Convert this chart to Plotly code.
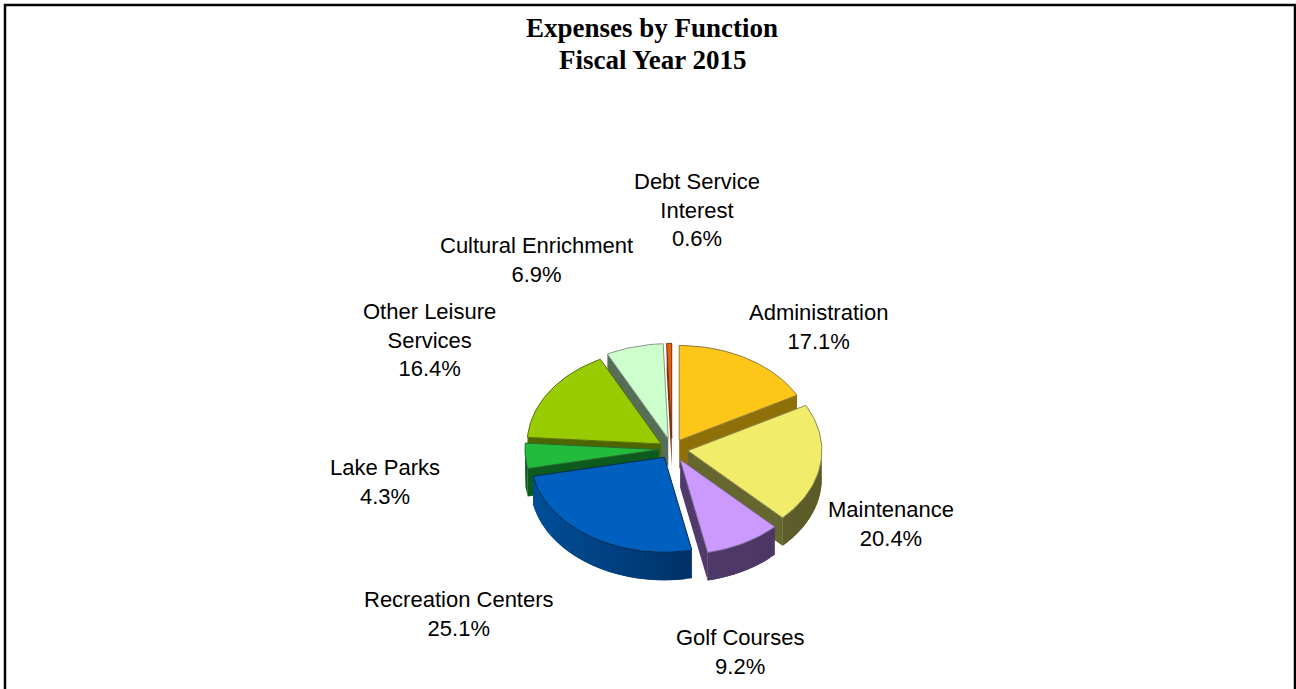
import math
import plotly.graph_objects as go

# Share of expenses by function, fiscal year 2015 (percent)
functions = ["Administration", "Maintenance", "Golf Courses", "Recreation Centers",
             "Lake Parks", "Other Leisure<br>Services", "Cultural Enrichment",
             "Debt Service<br>Interest"]
shares = [17.1, 20.4, 9.2, 25.1, 4.3, 16.4, 6.9, 0.6]
title_lines = ["Expenses by Function", "Fiscal Year 2015"]

top_colors = ["#FFC61A", "#F2EC6B", "#CC99FF", "#0060C0", "#22BB3C", "#99CC00", "#CCFFCC", "#E85F10"]
wall_colors = ["#8F7008", "#66662F", "#503A6B", "#002A5C", "#0C5A1C", "#4D6600", "#566E56", "#7A3008"]
rim_left = ["#8F7008", "#66662F", "#57406F", "#004F99", "#0C5A1C", "#4D6600", "#566E56", "#7A3008"]
rim_right = ["#8F7008", "#5C5C2A", "#4A3563", "#001E46", "#0C5A1C", "#4D6600", "#566E56", "#7A3008"]
top_edges = ["#8A7A40", "#8A8A50", "#7A6A90", "#0A2A50", "#2A6A30", "#5A7010", "#8A9A8A", "#7A3008"]

# Pie geometry on a pixel-sized plotting area
CX, CY = 672, 449
RX, RY = 134, 95
DEPTH = 28
explode = [14, 16, 17, 14, 13, 13, 15, 15]
paint_order = [7, 6, 5, 4, 0, 1, 2, 3]

# Label placement: centre x and y of the first text line
label_pos = [(818, 310), (891, 507), (740, 635), (459, 597),
             (385, 465), (429, 309), (536, 243), (697, 179)]
title_y = [28, 60]


def hex_rgb(h):
    return tuple(int(h[i:i + 2], 16) for i in (1, 3, 5))


def lerp_color(a, b, t):
    ca, cb = hex_rgb(a), hex_rgb(b)
    return "rgb(%d,%d,%d)" % tuple(round(x + (y - x) * t) for x, y in zip(ca, cb))


def polygon(xs, ys, fill, line=None, width=0.0):
    return go.Scatter(x=xs + xs[:1], y=ys + ys[:1], mode="lines", fill="toself",
                      fillcolor=fill, line=dict(color=line or fill, width=width),
                      hoverinfo="skip", showlegend=False)


def rim_point(ax, ay, deg):
    r = math.radians(deg)
    return ax + RX * math.sin(r), ay - RY * math.cos(r)


fig = go.Figure()

# Cumulative angles, clockwise from twelve o'clock
starts, ends, acc = [], [], 0.0
for s in shares:
    starts.append(acc * 3.6)
    acc += s
    ends.append(acc * 3.6)

for i in paint_order:
    a0, a1 = starts[i], ends[i]
    mid = math.radians((a0 + a1) / 2)
    ax = CX + explode[i] * math.sin(mid)
    ay = CY - explode[i] * math.cos(mid) * RY / RX

    # Radial walls facing the viewer
    for deg, visible in ((a0, math.sin(math.radians(a0)) < 0), (a1, math.sin(math.radians(a1)) > 0)):
        if visible:
            ex, ey = rim_point(ax, ay, deg)
            fig.add_trace(polygon([ax, ex, ex, ax], [ay, ey, ey + DEPTH, ay + DEPTH], wall_colors[i]))

    # Curved outer wall, only where it faces forward; bands overlap so no seams show
    lo, hi = max(a0, 90.0), min(a1, 270.0)
    if hi > lo:
        n = max(2, int((hi - lo) / 3))
        for k in range(n):
            d0 = lo + (hi - lo) * k / n
            d1 = hi if k == n - 1 else lo + (hi - lo) * (k + 2) / n
            arc = [rim_point(ax, ay, d0 + (d1 - d0) * j / 4) for j in range(5)]
            t = (math.sin(math.radians(d0 + (hi - lo) / (2 * n))) + 1) / 2
            xs = [p[0] for p in arc]
            ys = [p[1] for p in arc]
            fig.add_trace(polygon(xs + xs[::-1], ys + [y + DEPTH for y in ys[::-1]],
                                  lerp_color(rim_left[i], rim_right[i], t)))

    # Top face
    n = max(3, int((a1 - a0) / 2))
    arc = [rim_point(ax, ay, a0 + (a1 - a0) * k / n) for k in range(n + 1)]
    fig.add_trace(polygon([ax] + [p[0] for p in arc], [ay] + [p[1] for p in arc],
                          top_colors[i], line=top_edges[i], width=1))

# Slice labels with their percentages
for name, share, (lx, ly) in zip(functions, shares, label_pos):
    fig.add_annotation(x=lx, y=ly - 12, yanchor="top", xanchor="center", showarrow=False,
                       text=f"{name}<br>{share:.1f}%", align="center",
                       font=dict(family="Liberation Sans", size=22, color="#000000"))

# Two-line heading, placed line by line for tighter leading
for line, y in zip(title_lines, title_y):
    fig.add_annotation(x=652, y=y, yanchor="middle", xanchor="center", showarrow=False,
                       text=f"<b>{line}</b>",
                       font=dict(family="Liberation Serif", size=27, color="#000000"))

# Frame around the chart, open along the bottom edge
frame = dict(type="path", path="M 5 689 L 5 5 L 1295 5 L 1295 689",
             line=dict(color="#000000", width=2.5))

fig.update_layout(
    width=1296, height=689, autosize=False,
    margin=dict(l=0, r=0, t=0, b=0),
    paper_bgcolor="#FFFFFF", plot_bgcolor="#FFFFFF",
    xaxis=dict(range=[0, 1296], visible=False, fixedrange=True),
    yaxis=dict(range=[689, 0], visible=False, fixedrange=True),
    shapes=[frame],
    showlegend=False,
)

fig.write_html("out.html")
